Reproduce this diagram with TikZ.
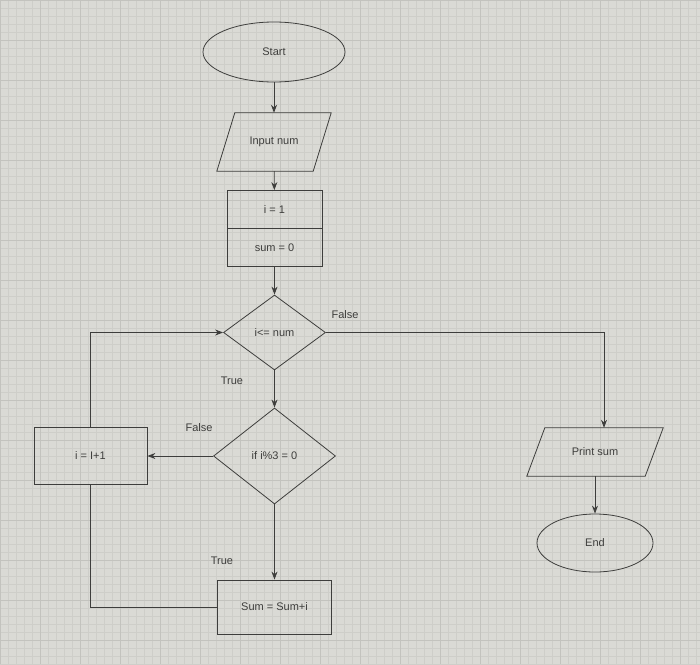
\documentclass[tikz,border=0pt]{standalone}
\usepackage{fontspec}
\setmainfont{Liberation Sans}
\usetikzlibrary{shapes.geometric,arrows.meta}
\definecolor{paper}{RGB}{218,218,213}
\definecolor{gridc}{RGB}{206,206,201}
\definecolor{gridm}{RGB}{195,195,190}
\definecolor{ink}{RGB}{62,62,60}
\begin{document}
\begin{tikzpicture}[x=1pt,y=-1pt,
  every node/.style={font=\fontsize{11}{12}\selectfont, text=ink},
  shp/.style={draw=ink, line width=0.8pt, inner sep=0pt},
  term/.style={shp, ellipse},
  iobox/.style={inner sep=0pt, rectangle},
  proc/.style={shp, rectangle},
  dec/.style={shp, diamond},
  lbl/.style={font=\fontsize{11}{12}\selectfont},
  line/.style={draw=ink, line width=0.8pt},
  arr/.style={line, -{Stealth[length=8pt,width=6pt]}}
]
\fill[paper] (0,0) rectangle (700,664);
\useasboundingbox (0,0) rectangle (700,664);
\foreach \k in {0,8,...,696} {\draw[gridc, line width=0.3pt] (\k,0) -- (\k,664);}
\foreach \k in {0,8,...,664} {\draw[gridc, line width=0.3pt] (0,\k) -- (700,\k);}
\foreach \k in {0,40,...,696} {\draw[gridm, line width=0.5pt] (\k,0) -- (\k,664);}
\foreach \k in {0,40,...,664} {\draw[gridm, line width=0.5pt] (0,\k) -- (700,\k);}

\node[term, minimum width=142, minimum height=60] (start) at (274,52) {Start};
\node[iobox, minimum width=114, minimum height=58] (input) at (274,142) {Input num};
\draw[line] ([xshift=18pt]input.north west) -- (input.north east) -- ([xshift=-18pt]input.south east) -- (input.south west) -- cycle;
\node[proc, minimum width=95, minimum height=38] (i1) at (274.5,209.5) {i = 1};
\node[proc, minimum width=95, minimum height=38] (sum0) at (274.5,247.5) {sum = 0};
\node[dec, minimum width=102, minimum height=75] (cond1) at (274.5,332.5) {i<= num};
\node[dec, minimum width=122, minimum height=96] (cond2) at (274.5,456) {if i\%3 = 0};
\node[proc, minimum width=113, minimum height=57] (inc) at (90.5,456) {i = I+1};
\node[proc, minimum width=114, minimum height=54] (add) at (274.5,607) {Sum = Sum+i};
\node[iobox, minimum width=136, minimum height=48] (print) at (595,452) {Print sum};
\draw[line] ([xshift=18pt]print.north west) -- (print.north east) -- ([xshift=-18pt]print.south east) -- (print.south west) -- cycle;
\node[term, minimum width=116, minimum height=58] (end) at (595,543) {End};

\coordinate (c1) at (inc.north |- cond1.west);
\coordinate (ptop) at ([xshift=9pt]print.north);
\coordinate (c2) at (ptop |- cond1.east);
\coordinate (c3) at (inc.south |- add.west);

\draw[arr] (start) -- (input);
\draw[arr] (input) -- (i1);
\draw[arr] (sum0) -- (cond1);
\draw[arr] (cond1) -- (cond2);
\draw[arr] (cond1.east) -- (c2) -- (ptop);
\draw[arr] (cond2.west) -- (inc.east);
\draw[arr] (cond2.south) -- (add.north);
\draw[arr] (inc.north) -- (c1) -- (cond1.west);
\draw[line] (add.west) -- (c3) -- (inc.south);
\draw[arr] (print.south) -- (end.north);

\node[lbl] (lf1) at (345,315) {False};
\node[lbl] (lt1) at (232,381) {True};
\node[lbl] (lf2) at (199,428) {False};
\node[lbl] (lt2) at (222,561) {True};
\end{tikzpicture}
\end{document}
